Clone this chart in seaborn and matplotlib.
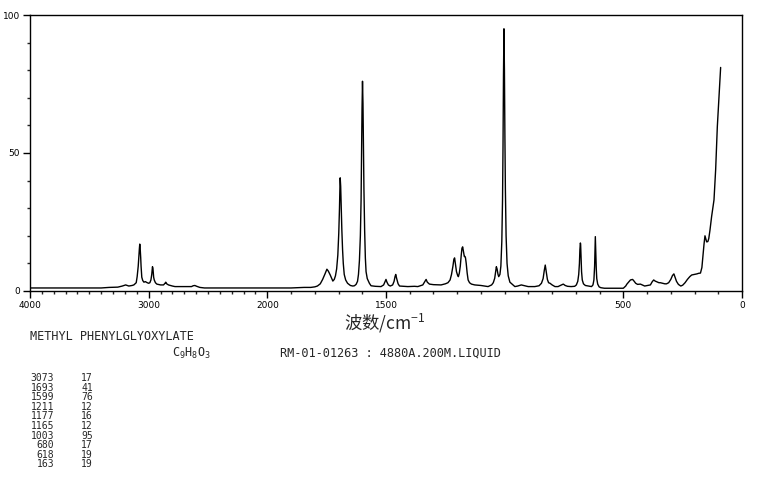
import numpy as np
import pandas as pd
import matplotlib
matplotlib.use('Agg')
import matplotlib.pyplot as plt
import seaborn as sns
from matplotlib.ticker import FixedLocator, MultipleLocator

# Raman trace (wavenumber cm-1, relative intensity)
wavenumber = [
    4000, 3400, 3333, 3260, 3222, 3194, 3167, 3140, 3125, 3105, 3097, 3088, 3083,
    3078, 3075, 3071, 3067, 3064, 3058, 3050, 3040, 3028, 3012, 3000, 2990, 2981,
    2974, 2968, 2964, 2958, 2953, 2943, 2931, 2900, 2875, 2862, 2856, 2848, 2833,
    2800, 2778, 2700, 2639, 2625, 2611, 2595, 2569, 2530, 2200, 2000, 1900, 1845,
    1817, 1800, 1789, 1777, 1767, 1757, 1749, 1743, 1735, 1724, 1718, 1713, 1708,
    1703, 1699, 1696, 1694, 1693, 1691, 1689, 1686, 1683, 1680, 1676, 1670, 1662,
    1650, 1640, 1633, 1626, 1620, 1616, 1612, 1608, 1605, 1603, 1601, 1599, 1597,
    1595, 1593, 1590, 1587, 1584, 1579, 1570, 1563, 1545, 1521, 1510, 1504, 1500,
    1496, 1490, 1482, 1472, 1466, 1462, 1459, 1455, 1449, 1443, 1425, 1408, 1380,
    1366, 1345, 1336, 1331, 1326, 1317, 1300, 1268, 1250, 1239, 1230, 1224, 1218,
    1214, 1211, 1207, 1203, 1198, 1195, 1191, 1187, 1183, 1180, 1177, 1174, 1170,
    1167, 1165, 1162, 1158, 1154, 1148, 1140, 1126, 1100, 1070, 1055, 1048, 1042,
    1038, 1035, 1032, 1028, 1025, 1020, 1016, 1012, 1009, 1007, 1005, 1003, 1001,
    999, 997, 994, 990, 985, 978, 970, 957, 945, 930, 915, 901, 873, 855, 845,
    838, 833, 829, 825, 820, 815, 809, 800, 788, 775, 768, 761, 753, 745, 735,
    720, 705, 698, 692, 688, 685, 683, 681, 680, 678, 676, 673, 668, 660, 648,
    634, 628, 624, 621, 619, 618, 616, 614, 612, 608, 602, 595, 580, 550, 520,
    500, 490, 485, 478, 470, 461, 455, 448, 440, 428, 420, 410, 398, 386, 378,
    372, 366, 360, 350, 344, 335, 325, 318, 309, 300, 293, 287, 282, 276, 268,
    258, 250, 240, 230, 220, 212, 200, 190, 183, 175, 169, 165, 160, 156, 153,
    149, 144, 140, 135, 128, 123, 118, 111, 104, 97, 90,
]
intensity = [
    1.1, 1.1, 1.3, 1.4, 1.8, 2.2, 1.8, 2.0, 2.2, 3.0, 5.2, 9.0, 12.0,
    15.5, 17.0, 15.0, 12.0, 9.0, 5.0, 3.8, 3.2, 3.4, 3.0, 2.8, 3.0, 4.0,
    6.0, 8.8, 8.2, 5.0, 4.0, 3.0, 2.5, 2.2, 2.2, 2.8, 3.2, 2.6, 2.2,
    1.8, 1.6, 1.6, 1.6, 1.9, 2.0, 1.7, 1.3, 1.1, 1.1, 1.1, 1.1, 1.3,
    1.3, 1.5, 1.8, 2.6, 4.2, 6.2, 7.9, 7.2, 5.8, 3.6, 4.2, 5.5, 8.0,
    13.0, 21.0, 30.0, 38.0, 41.0, 38.0, 31.0, 22.0, 15.0, 10.0, 6.0, 4.0, 2.8,
    2.0, 1.8, 1.9, 2.4, 3.5, 6.0, 11.0, 20.0, 33.0, 48.0, 66.0, 76.0, 68.0,
    52.0, 37.0, 22.0, 12.0, 7.0, 4.5, 2.8, 1.9, 1.7, 1.6, 2.2, 3.4, 4.2,
    3.2, 2.2, 1.8, 2.2, 3.5, 5.2, 6.0, 4.5, 2.6, 1.8, 1.7, 1.6, 1.7,
    1.6, 2.2, 3.5, 4.2, 3.2, 2.5, 2.3, 2.2, 2.6, 3.0, 4.0, 6.0, 9.0,
    11.5, 12.0, 9.5, 7.0, 5.6, 5.2, 6.5, 9.0, 13.0, 15.5, 16.0, 14.5, 12.5,
    12.5, 12.0, 10.0, 6.5, 4.0, 3.0, 2.5, 2.2, 2.0, 1.6, 2.2, 3.0, 4.6,
    7.0, 8.8, 8.0, 6.0, 5.2, 6.0, 9.0, 18.0, 33.0, 52.0, 78.0, 95.0, 80.0,
    56.0, 37.0, 20.0, 10.0, 5.5, 3.2, 2.6, 1.6, 1.8, 2.2, 1.9, 1.6, 1.6, 1.9, 2.8,
    4.5, 7.5, 9.4, 7.0, 4.2, 3.0, 2.8, 2.2, 1.6, 1.6, 1.9, 2.2, 2.5, 2.0, 1.7,
    1.6, 1.7, 2.2, 3.5, 6.0, 10.0, 15.0, 17.4, 17.0, 12.0, 7.0, 4.0, 2.6, 2.0, 1.8,
    1.6, 2.2, 4.0, 9.0, 16.0, 19.7, 14.0, 8.0, 4.5, 2.5, 1.5, 1.2, 1.0, 1.0, 1.0,
    1.0, 1.8, 2.5, 3.2, 4.0, 4.2, 3.6, 2.8, 2.4, 2.5, 2.2, 1.8, 2.0, 2.2, 3.4,
    4.0, 3.6, 3.4, 3.0, 3.0, 2.8, 2.6, 2.6, 3.0, 4.2, 5.6, 6.2, 5.0, 3.5, 2.4,
    1.8, 2.1, 3.0, 4.2, 5.2, 5.8, 6.0, 6.2, 6.4, 6.5, 8.5, 12.4, 17.0, 20.0, 19.0,
    17.8, 17.9, 19.0, 22.0, 27.0, 30.0, 33.0, 44.0, 59.5, 70.0, 81.0,
]

# peak table printed under the chart
peak_wn = [3073, 1693, 1599, 1211, 1177, 1165, 1003, 680, 618, 163]
peak_int = [17, 41, 76, 12, 16, 12, 95, 17, 19, 19]

x_ticks = [4000, 3000, 2000, 1500, 500, 0]
y_ticks = [0, 50, 100]

compound = 'METHYL PHENYLGLYOXYLATE'
formula = r'$\mathregular{C_9H_8O_3}$'
sample_info = 'RM-01-01263 : 4880A.200M.LIQUID'
x_label = '波数/cm$\\mathregular{^{-1}}$'

df = pd.DataFrame({'wavenumber': wavenumber, 'intensity': intensity})


# 4000-2000 region is drawn at half scale
def fwd(x):
    x = np.asarray(x, dtype=float)
    return np.where(x > 2000, 2000 + (x - 2000) / 2, x)


def inv(t):
    t = np.asarray(t, dtype=float)
    return np.where(t > 2000, 2000 + (t - 2000) * 2, t)


W, H = 765, 482
sns.set_style('ticks')
plt.rcParams['font.family'] = ['DejaVu Sans', 'Noto Sans CJK SC']

fig = plt.figure(figsize=(W / 100, H / 100), dpi=100)
ax = fig.add_axes([30 / W, (H - 291) / H, 712 / W, 276 / H])

sns.lineplot(data=df, x='wavenumber', y='intensity', ax=ax, color='black',
             linewidth=1.0, estimator=None)

ax.set_xscale('function', functions=(fwd, inv))
ax.set_xlim(4000, 0)
ax.set_ylim(0, 100)
ax.xaxis.set_major_locator(FixedLocator(x_ticks))
ax.xaxis.set_minor_locator(MultipleLocator(100))
ax.set_xticklabels([str(t) for t in x_ticks])
ax.yaxis.set_major_locator(FixedLocator(y_ticks))
ax.yaxis.set_minor_locator(MultipleLocator(10))
ax.set_yticklabels([str(t) for t in y_ticks])
ax.set_xlabel('')
ax.set_ylabel('')

for s in ax.spines.values():
    s.set_visible(True)
    s.set_color('black')
    s.set_linewidth(1.0)
ax.tick_params(which='major', direction='out', length=5, width=1,
               labelsize=6.5, colors='black', pad=2)
ax.tick_params(which='minor', direction='out', length=2.5, width=1)


def px(x, y):
    return x / W, 1 - y / H


mono = 'DejaVu Sans Mono'
fig.text(*px(385, 323), x_label, ha='center', va='center', fontsize=12.5,
         family=['Noto Sans CJK SC', 'DejaVu Sans'])
fig.text(*px(30, 336), compound, ha='left', va='center', fontsize=8.6, family=mono)
fig.text(*px(172, 353), formula, ha='left', va='center', fontsize=8.6, family=mono)
fig.text(*px(280, 353), sample_info, ha='left', va='center', fontsize=8.6, family=mono)

for i, (w, v) in enumerate(zip(peak_wn, peak_int)):
    y = 378 + i * 9.6
    fig.text(*px(54, y), str(w), ha='right', va='center', fontsize=7, family=mono)
    fig.text(*px(81, y), str(v), ha='left', va='center', fontsize=7, family=mono)

fig.savefig('out.png', dpi=100)
